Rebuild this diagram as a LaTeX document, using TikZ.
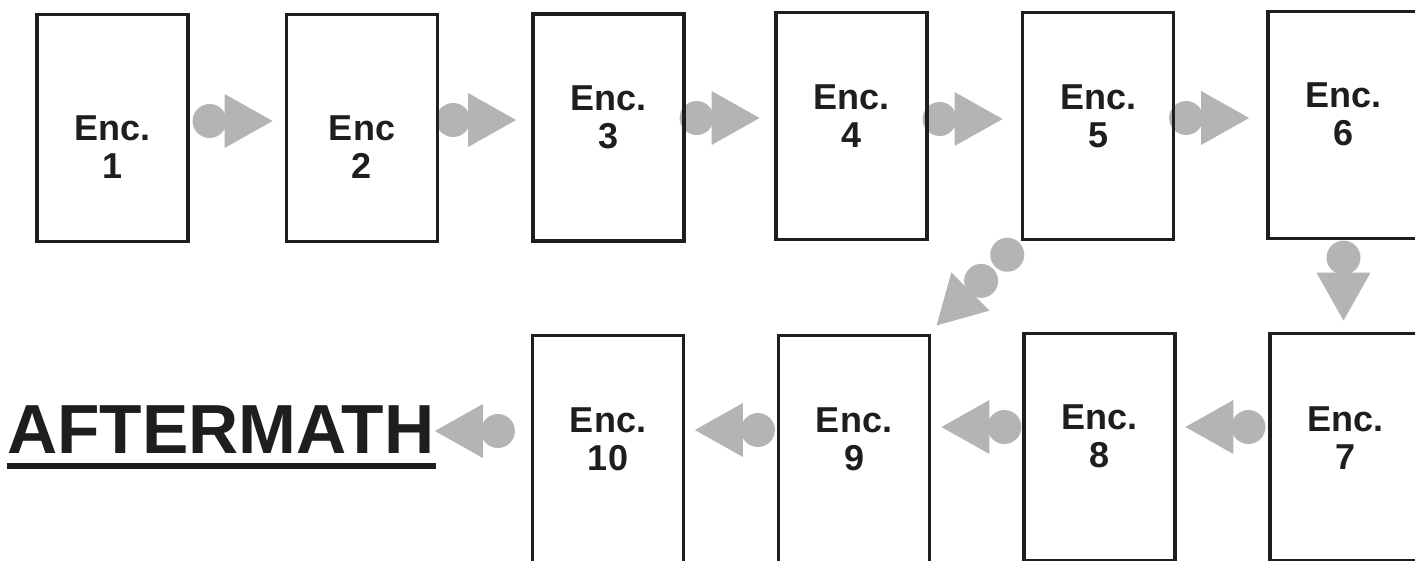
\documentclass[tikz,border=0pt]{standalone}
\usepackage{fontspec}
\setmainfont{Liberation Sans}
\usetikzlibrary{calc}

\definecolor{ink}{RGB}{30,30,30}
\definecolor{beadgray}{RGB}{180,180,180}

\pgfdeclarelayer{paper}
\pgfdeclarelayer{links}
\pgfsetlayers{paper,links,main}

\tikzset{
  encbox/.style={draw=ink, line width=3.2pt, minimum width=151pt,
    minimum height=227pt, inner sep=0pt},
  enctext/.style={anchor=north, align=center, inner sep=0pt, text=ink,
    font=\fontsize{36}{38}\selectfont\bfseries},
  % grey bead with an arrowhead in front of it
  bead/.pic={
    \fill[beadgray] (0,0) circle (17);
    \fill[beadgray] (15,-27) -- (15,27) -- (63,0) -- cycle;
  },
  % two beads and an arrowhead
  twobead/.pic={
    \fill[beadgray] (-37,0) circle (17);
    \fill[beadgray] (0,0) circle (17);
    \fill[beadgray] (15,-27) -- (15,27) -- (63,0) -- cycle;
  },
}

\begin{document}
\begin{tikzpicture}[x=1pt, y=-1pt]
  \useasboundingbox (0,0) rectangle (1415,560);
  \begin{pgfonlayer}{paper}
    \fill[white] (0,0) rectangle (1415,560);
  \end{pgfonlayer}
  \clip (0,0) rectangle (1415,560);

  % top row of encounters
  \node[encbox] (b1) at (112.5,128) {};
  \node[encbox] (b2) at (362,128) {};
  \node[encbox] (b3) at (608.5,127.5) {};
  \node[encbox] (b4) at (851.5,126) {};
  \node[encbox] (b5) at (1098,126) {};
  \node[encbox] (b6) at (1343.5,125) {};
  % bottom row of encounters
  \node[encbox] (b7) at (1345.5,447) {};
  \node[encbox] (b8) at (1099.5,447) {};
  \node[encbox] (b9) at (854,449) {};
  \node[encbox] (b10) at (608,449) {};

  % labels
  \node[enctext] (t1) at ($(b1.center)+(0,-12)$) {Enc.\\1};
  \node[enctext] (t2) at ($(b2.center)+(0,-12)$) {Enc\\2};
  \node[enctext] (t3) at ($(b3.center)+(0,-41.5)$) {Enc.\\3};
  \node[enctext] (t4) at ($(b4.center)+(0,-41)$) {Enc.\\4};
  \node[enctext] (t5) at ($(b5.center)+(0,-41)$) {Enc.\\5};
  \node[enctext] (t6) at ($(b6.center)+(0,-42)$) {Enc.\\6};
  \node[enctext] (t7) at ($(b7.center)+(0,-40)$) {Enc.\\7};
  \node[enctext] (t8) at ($(b8.center)+(0,-42)$) {Enc.\\8};
  \node[enctext] (t9) at ($(b9.center)+(0,-41)$) {Enc.\\9};
  \node[enctext] (t10) at ($(b10.center)+(0,-41)$) {Enc.\\10};

  % final heading
  \node[anchor=base west, inner sep=0pt, text=ink,
    font=\fontsize{69.5}{69.5}\selectfont\bfseries] (after) at (7,453) {AFTERMATH};
  \draw[ink, line width=6pt] ($(after.base west)+(0,13)$) -- ($(after.base east)+(1,13)$);

  % connectors between encounters
  \begin{pgfonlayer}{links}
    \pic at ($(b1.east)+(20,-7)$) {bead};
    \pic at ($(b2.east)+(14,-8)$) {bead};
    \pic at ($(b3.east)+(11,-9.5)$) {bead};
    \pic at ($(b4.east)+(11,-7)$) {bead};
    \pic at ($(b5.east)+(11,-8)$) {bead};
    \pic[rotate=-90] at ($(b6.south)+(0,17.5)$) {bead};
    \pic[rotate=180] at ($(b7.west)+(-20,-20)$) {bead};
    \pic[rotate=180] at ($(b8.west)+(-18,-20)$) {bead};
    \pic[rotate=180] at ($(b9.west)+(-19,-19)$) {bead};
    \pic[rotate=180] at ($(b10.west)+(-33,-18)$) {bead};
    \pic[rotate=-135] at ($(b9.north east)+(50,-53)$) {twobead};
  \end{pgfonlayer}
\end{tikzpicture}
\end{document}
